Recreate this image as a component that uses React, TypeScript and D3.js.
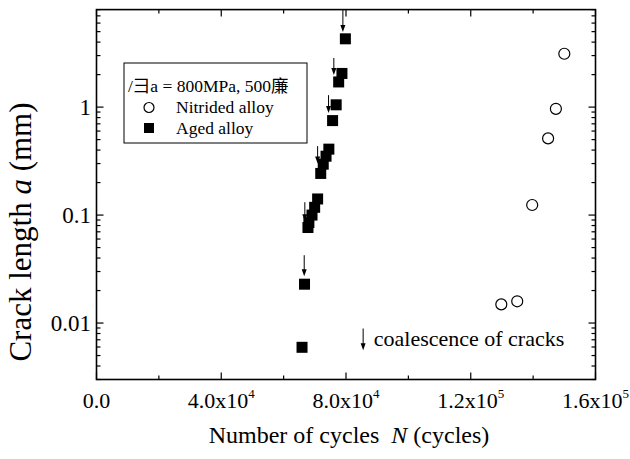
import React from "react";
import * as d3 from "d3";

// ---- data ----
const nitridedN = [129800, 134900, 139700, 144800, 147300, 150000];
const nitridedA = [0.0149, 0.0159, 0.124, 0.513, 0.964, 3.12];

const agedN = [65900, 66700, 67800, 68100, 69100, 69950, 70900, 71900, 72700, 73600, 74500, 75700, 76850, 77650, 78700, 79800];
const agedA = [0.00596, 0.0229, 0.0767, 0.0853, 0.1, 0.118, 0.141, 0.243, 0.296, 0.351, 0.408, 0.75, 1.05, 1.71, 2.05, 4.29];

// coalescence arrows: x position, start and tip crack length
const arrowN = [66600, 66800, 70900, 74400, 76100, 79000];
const arrowFrom = [0.0425, 0.1316, 0.435, 1.29, 2.85, 7.93];
const arrowTo = [0.0271, 0.0877, 0.3, 0.88, 1.98, 4.96];

const xMajorTicks = [0, 40000, 80000, 120000, 160000];
const xMinorTicks = [20000, 60000, 100000, 140000];
const xTickMantissa = ["0.0", "4.0", "8.0", "1.2", "1.6"];
const xTickExp = ["", "4", "4", "5", "5"];

const yMajorTicks = [0.01, 0.1, 1];
const yTickLabels = ["0.01", "0.1", "1"];

const legendTitle = "/彐a = 800MPa, 500廉";
const seriesNames = ["Nitrided alloy", "Aged alloy"];
const noteText = "coalescence of cracks";
const noteN = 85500;
const noteFrom = 0.0089;
const noteTo = 0.0056;
const noteTextN = 88900;
const noteTextA = 0.0061;

const W = 630;
const H = 459;
const L = 96.5, R = 595.5, T = 9.6, B = 379.5;
const FONT = "'Liberation Serif', 'Times New Roman', serif";

export default function App() {
  const x = d3.scaleLinear().domain([0, 160000]).range([L, R]);
  const y = d3.scaleLog().domain([0.003, 8]).range([B, T]);

  // log minor ticks
  const yMinor: number[] = [];
  for (let e = -3; e <= 0; e++) {
    for (let m = 2; m <= 9; m++) {
      const v = m * Math.pow(10, e);
      if (v >= 0.003 && v <= 8) yMinor.push(v);
    }
  }

  const majLen = 7;
  const minLen = 4;
  const arrowHead = (xt: number, yt: number, key: string) => (
    <path key={key} d={`M${xt - 2.5},${yt - 7} L${xt + 2.5},${yt - 7} L${xt},${yt} Z`} fill="#000" />
  );

  return (
    <svg width={W} height={H} style={{ position: "absolute", left: 0, top: 0, background: "#fff" }} fontFamily={FONT}>
      <rect x={0} y={0} width={W} height={H} fill="#fff" />
      {/* ticks bottom/top */}
      {xMajorTicks.map((t, i) => (
        <g key={"xm" + i}>
          <line x1={x(t)} x2={x(t)} y1={B} y2={B - majLen} stroke="#000" strokeWidth={1.2} />
          <line x1={x(t)} x2={x(t)} y1={T} y2={T + majLen} stroke="#000" strokeWidth={1.2} />
        </g>
      ))}
      {xMinorTicks.map((t, i) => (
        <g key={"xn" + i}>
          <line x1={x(t)} x2={x(t)} y1={B} y2={B - minLen} stroke="#000" strokeWidth={1.2} />
          <line x1={x(t)} x2={x(t)} y1={T} y2={T + minLen} stroke="#000" strokeWidth={1.2} />
        </g>
      ))}
      {/* ticks left/right */}
      {yMajorTicks.map((t, i) => (
        <g key={"ym" + i}>
          <line x1={L} x2={L + majLen} y1={y(t)} y2={y(t)} stroke="#000" strokeWidth={1.2} />
          <line x1={R} x2={R - majLen} y1={y(t)} y2={y(t)} stroke="#000" strokeWidth={1.2} />
        </g>
      ))}
      {yMinor.map((t, i) => (
        <g key={"yn" + i}>
          <line x1={L} x2={L + minLen} y1={y(t)} y2={y(t)} stroke="#000" strokeWidth={1.2} />
          <line x1={R} x2={R - minLen} y1={y(t)} y2={y(t)} stroke="#000" strokeWidth={1.2} />
        </g>
      ))}
      {/* frame */}
      <rect x={L} y={T} width={R - L} height={B - T} fill="none" stroke="#000" strokeWidth={1.6} />

      {/* x tick labels */}
      {xMajorTicks.map((t, i) => (
        <text key={"xl" + i} x={x(t)} y={408} fontSize={22} textAnchor="middle" fill="#000">
          {xTickMantissa[i]}
          {xTickExp[i] ? "x10" : ""}
          {xTickExp[i] ? (
            <tspan fontSize={13} dy={-10}>{xTickExp[i]}</tspan>
          ) : null}
        </text>
      ))}
      {/* y tick labels */}
      {yMajorTicks.map((t, i) => (
        <text key={"yl" + i} x={91} y={y(t) + 8} fontSize={23} textAnchor="end" fill="#000">
          {yTickLabels[i]}
        </text>
      ))}

      {/* axis titles */}
      <text x={349} y={443} fontSize={24} textAnchor="middle" fill="#000" xmlSpace="preserve">
        Number of cycles{"  "}
        <tspan fontStyle="italic">N</tspan> (cycles)
      </text>
      <text transform={`translate(31,232) rotate(-90)`} fontSize={31} textAnchor="middle" fill="#000">
        Crack length <tspan fontStyle="italic">a</tspan> (mm)
      </text>

      {/* aged alloy squares */}
      {agedN.map((n, i) => (
        <rect key={"sq" + i} x={x(n) - 5.5} y={y(agedA[i]) - 5.5} width={11} height={11} fill="#000" />
      ))}
      {/* nitrided circles */}
      {nitridedN.map((n, i) => (
        <circle key={"c" + i} cx={x(n)} cy={y(nitridedA[i])} r={5.5} fill="#fff" stroke="#000" strokeWidth={1.2} />
      ))}

      {/* coalescence arrows */}
      {arrowN.map((n, i) => (
        <g key={"ar" + i}>
          <line x1={x(n)} x2={x(n)} y1={y(arrowFrom[i])} y2={y(arrowTo[i]) - 5} stroke="#000" strokeWidth={1} />
          {arrowHead(x(n), y(arrowTo[i]), "ah" + i)}
        </g>
      ))}

      {/* annotation */}
      <line x1={x(noteN)} x2={x(noteN)} y1={y(noteFrom)} y2={y(noteTo) - 5} stroke="#000" strokeWidth={1} />
      {arrowHead(x(noteN), y(noteTo), "noteHead")}
      <text x={x(noteTextN)} y={y(noteTextA)} fontSize={22} fill="#000">{noteText}</text>

      {/* legend */}
      <rect x={124} y={63} width={183} height={80} fill="#fff" stroke="#000" strokeWidth={1} />
      <text x={128} y={92} fontSize={17.5} fill="#000" fontFamily={`${FONT}, 'Noto Sans CJK SC'`}>{legendTitle}</text>
      <circle cx={149} cy={107.5} r={5} fill="#fff" stroke="#000" strokeWidth={1.2} />
      <text x={176} y={113} fontSize={17.5} fill="#000">{seriesNames[0]}</text>
      <rect x={144} y={123} width={10} height={10} fill="#000" />
      <text x={176} y={134} fontSize={17.5} fill="#000">{seriesNames[1]}</text>
    </svg>
  );
}
